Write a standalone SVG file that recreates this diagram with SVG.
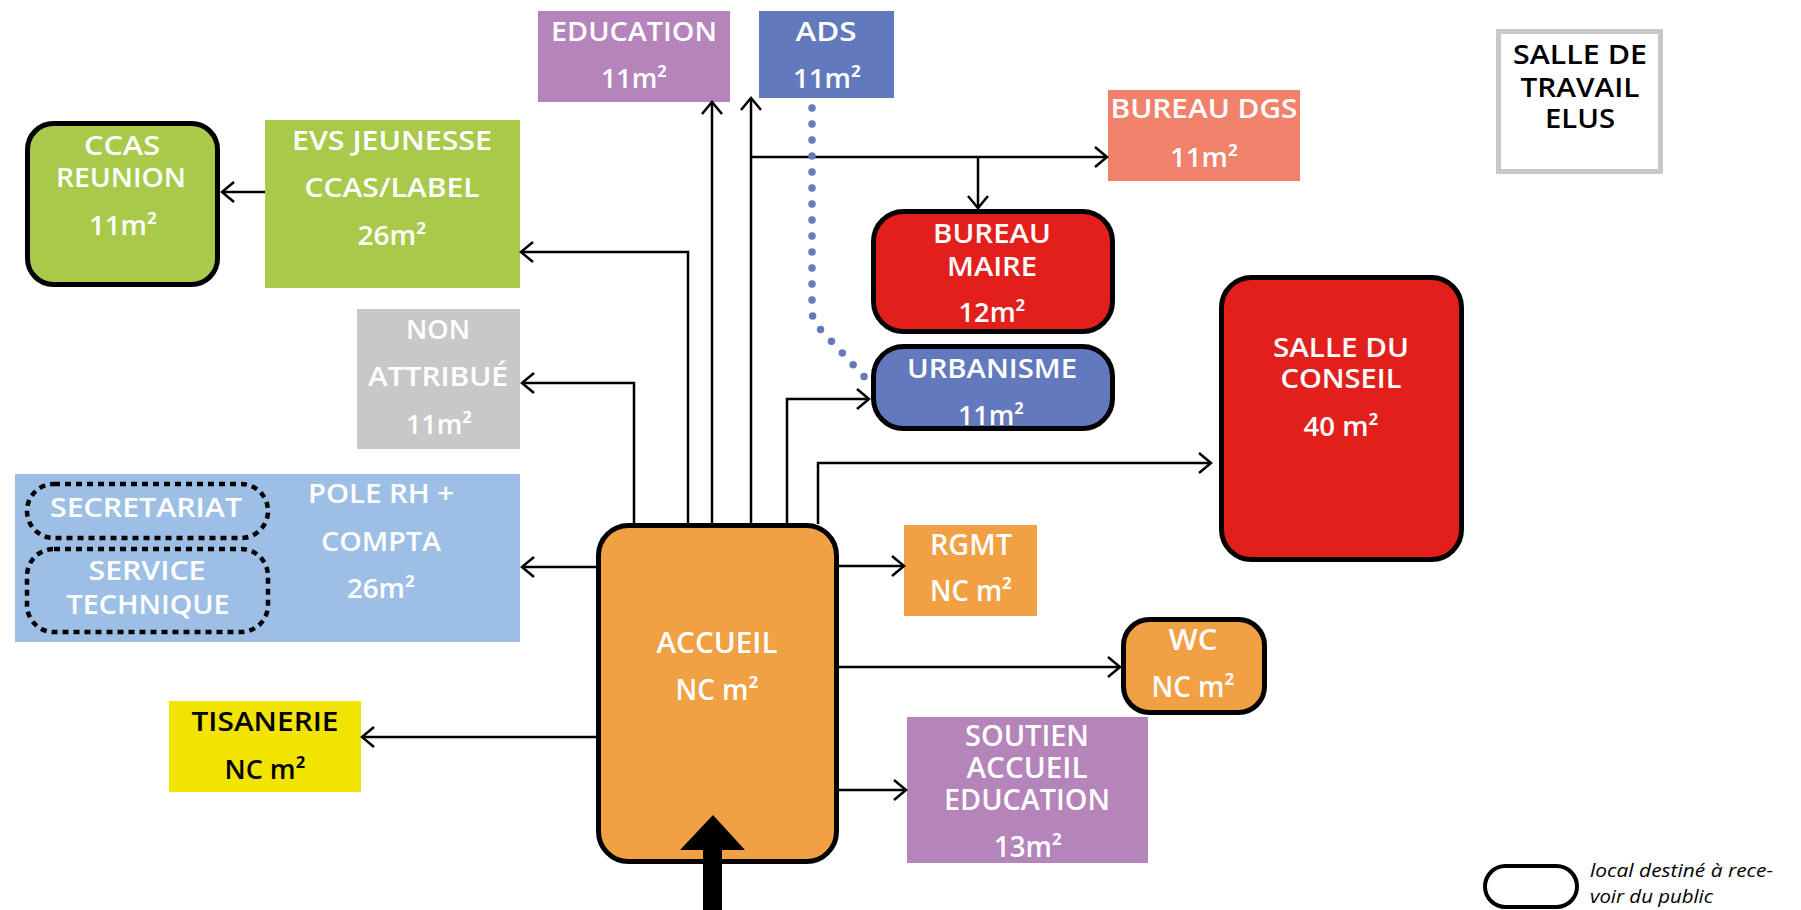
<svg xmlns="http://www.w3.org/2000/svg" width="1801" height="910" viewBox="0 0 1801 910">
<style>
.t{font-family:"Open Sans","Noto Sans",sans-serif;font-weight:600;font-size:27px;fill:#fff;text-anchor:middle}
.k{fill:#000}
.c{font-size:28px}
.lg{font-family:"Open Sans","Noto Sans",sans-serif;font-style:italic;font-size:18px;fill:#000}
.conn{fill:none;stroke:#000;stroke-width:2.5}
.rr{stroke:#000;stroke-width:5}
.dash{fill:none;stroke:#000;stroke-width:4.5;stroke-dasharray:6 5}
</style>
<defs>
<marker id="ah" markerUnits="userSpaceOnUse" markerWidth="16" markerHeight="24" refX="13" refY="11" orient="auto" viewBox="0 0 16 22">
<path d="M1,1 L13,11 L1,21" fill="none" stroke="#000" stroke-width="2.5"/>
</marker>
</defs>
<rect width="1801" height="910" fill="#fff"/>

<g id="ccas-reunion">
<rect class="rr" x="27.5" y="123.5" width="190" height="161" rx="26" fill="#A9C94B"/>
<text class="t" x="122" y="155" textLength="76" lengthAdjust="spacingAndGlyphs">CCAS</text>
<text class="t" x="121" y="187" textLength="130" lengthAdjust="spacingAndGlyphs">REUNION</text>
<text class="t" x="123" y="235" textLength="68" lengthAdjust="spacingAndGlyphs">11m²</text>
</g>
<g id="evs">
<rect x="265" y="120" width="255" height="168" fill="#A9C94B"/>
<text class="t" x="392" y="150" textLength="200" lengthAdjust="spacingAndGlyphs">EVS JEUNESSE</text>
<text class="t" x="392" y="197" textLength="175" lengthAdjust="spacingAndGlyphs">CCAS/LABEL</text>
<text class="t" x="392" y="245" textLength="69" lengthAdjust="spacingAndGlyphs">26m²</text>
</g>
<g id="education">
<rect x="538" y="11" width="192" height="91" fill="#B484BA"/>
<text class="t" x="634" y="41" textLength="166" lengthAdjust="spacingAndGlyphs">EDUCATION</text>
<text class="t" x="634" y="88" textLength="66" lengthAdjust="spacingAndGlyphs">11m²</text>
</g>
<g id="ads">
<rect x="759" y="11" width="135" height="87" fill="#6379BD"/>
<text class="t" x="826" y="41" textLength="61" lengthAdjust="spacingAndGlyphs">ADS</text>
<text class="t" x="827" y="88" textLength="68" lengthAdjust="spacingAndGlyphs">11m²</text>
</g>
<g id="bureau-dgs">
<rect x="1108" y="90" width="192" height="91" fill="#F0826B"/>
<text class="t" x="1204" y="118" textLength="187" lengthAdjust="spacingAndGlyphs">BUREAU DGS</text>
<text class="t" x="1204" y="167" textLength="68" lengthAdjust="spacingAndGlyphs">11m²</text>
</g>
<g id="bureau-maire">
<rect class="rr" x="873.5" y="211.5" width="239" height="120" rx="30" fill="#E31F1C"/>
<text class="t" x="992" y="243" textLength="118" lengthAdjust="spacingAndGlyphs">BUREAU</text>
<text class="t" x="992" y="276" textLength="90" lengthAdjust="spacingAndGlyphs">MAIRE</text>
<text class="t" x="992" y="322" textLength="67" lengthAdjust="spacingAndGlyphs">12m²</text>
</g>
<g id="urbanisme">
<rect class="rr" x="873.5" y="346.5" width="239" height="82" rx="30" fill="#6379BD"/>
<text class="t" x="992" y="378" textLength="170" lengthAdjust="spacingAndGlyphs">URBANISME</text>
<text class="t" x="991" y="425" textLength="66" lengthAdjust="spacingAndGlyphs">11m²</text>
</g>
<g id="salle-conseil">
<rect class="rr" x="1221.5" y="277.5" width="240" height="282" rx="30" fill="#E31F1C"/>
<text class="t" x="1341" y="357" textLength="136" lengthAdjust="spacingAndGlyphs">SALLE DU</text>
<text class="t" x="1341" y="388" textLength="121" lengthAdjust="spacingAndGlyphs">CONSEIL</text>
<text class="t" x="1341" y="436" textLength="75" lengthAdjust="spacingAndGlyphs">40 m²</text>
</g>
<g id="salle-elus">
<rect x="1498.5" y="31.5" width="162" height="140" fill="#fff" stroke="#C8C8C8" stroke-width="5"/>
<text class="t k" x="1580" y="64" textLength="134" lengthAdjust="spacingAndGlyphs">SALLE DE</text>
<text class="t k" x="1580" y="97" textLength="119" lengthAdjust="spacingAndGlyphs">TRAVAIL</text>
<text class="t k" x="1580" y="128" textLength="70" lengthAdjust="spacingAndGlyphs">ELUS</text>
</g>
<g id="non-attribue">
<rect x="357" y="309" width="163" height="140" fill="#C8C8C8"/>
<text class="t" x="438" y="339" textLength="64" lengthAdjust="spacingAndGlyphs">NON</text>
<text class="t" x="438" y="386" textLength="140" lengthAdjust="spacingAndGlyphs">ATTRIBUÉ</text>
<text class="t" x="439" y="434" textLength="66" lengthAdjust="spacingAndGlyphs">11m²</text>
</g>
<g id="pole-rh">
<rect x="15" y="474" width="505" height="168" fill="#9DBFE5"/>
<text class="t" x="381" y="503" textLength="146" lengthAdjust="spacingAndGlyphs">POLE RH +</text>
<text class="t" x="381" y="551" textLength="120" lengthAdjust="spacingAndGlyphs">COMPTA</text>
<text class="t" x="381" y="598" textLength="68" lengthAdjust="spacingAndGlyphs">26m²</text>
</g>
<g id="secretariat">
<rect class="dash" x="27" y="484" width="241" height="54" rx="27"/>
<text class="t" x="146" y="517" textLength="192" lengthAdjust="spacingAndGlyphs">SECRETARIAT</text>
</g>
<g id="service-technique">
<rect class="dash" x="27" y="549" width="241" height="83" rx="27"/>
<text class="t" x="147" y="580" textLength="117" lengthAdjust="spacingAndGlyphs">SERVICE</text>
<text class="t" x="148" y="614" textLength="163" lengthAdjust="spacingAndGlyphs">TECHNIQUE</text>
</g>
<g id="accueil">
<rect class="rr" x="598.5" y="525.5" width="238" height="336" rx="30" fill="#F2A044"/>
<text class="t c" x="717" y="653" textLength="121" lengthAdjust="spacingAndGlyphs">ACCUEIL</text>
<text class="t c" x="717" y="700" textLength="83" lengthAdjust="spacingAndGlyphs">NC m²</text>
</g>
<g id="rgmt">
<rect x="904" y="525" width="133" height="91" fill="#F2A044"/>
<text class="t c" x="971" y="555" textLength="82" lengthAdjust="spacingAndGlyphs">RGMT</text>
<text class="t c" x="971" y="601" textLength="82" lengthAdjust="spacingAndGlyphs">NC m²</text>
</g>
<g id="wc">
<rect class="rr" x="1123.5" y="619.5" width="141" height="93" rx="26" fill="#F2A044"/>
<text class="t c" x="1193" y="650" textLength="49" lengthAdjust="spacingAndGlyphs">WC</text>
<text class="t c" x="1193" y="697" textLength="83" lengthAdjust="spacingAndGlyphs">NC m²</text>
</g>
<g id="soutien">
<rect x="907" y="717" width="241" height="146" fill="#B484BA"/>
<text class="t c" x="1027" y="746" textLength="124" lengthAdjust="spacingAndGlyphs">SOUTIEN</text>
<text class="t c" x="1027" y="778" textLength="121" lengthAdjust="spacingAndGlyphs">ACCUEIL</text>
<text class="t c" x="1027" y="810" textLength="166" lengthAdjust="spacingAndGlyphs">EDUCATION</text>
<text class="t c" x="1028" y="857" textLength="68" lengthAdjust="spacingAndGlyphs">13m²</text>
</g>
<g id="tisanerie">
<rect x="169" y="701" width="192" height="91" fill="#F0E400"/>
<text class="t k" x="265" y="731" textLength="147" lengthAdjust="spacingAndGlyphs">TISANERIE</text>
<text class="t k" x="265" y="779" textLength="81" lengthAdjust="spacingAndGlyphs">NC m²</text>
</g>
<g id="legend">
<rect x="1485" y="866" width="92" height="41" rx="20.5" fill="#fff" stroke="#000" stroke-width="4"/>
<text class="lg" x="1590" y="877" textLength="183" lengthAdjust="spacingAndGlyphs">local destiné à rece-</text>
<text class="lg" x="1590" y="903" textLength="123" lengthAdjust="spacingAndGlyphs">voir du public</text>
</g>

<g id="connectors">
<path class="conn" marker-end="url(#ah)" d="M265,192 H222"/>
<path class="conn" marker-end="url(#ah)" d="M688,523 V252 H521"/>
<path class="conn" marker-end="url(#ah)" d="M634,523 V383 H522"/>
<path class="conn" marker-end="url(#ah)" d="M712,523 V102"/>
<path class="conn" marker-end="url(#ah)" d="M751,523 V98"/>
<path class="conn" marker-end="url(#ah)" d="M751,157 H1107"/>
<path class="conn" marker-end="url(#ah)" d="M978,157 V208"/>
<path class="conn" marker-end="url(#ah)" d="M787,523 V399 H869"/>
<path class="conn" marker-end="url(#ah)" d="M818,524 V463 H1211"/>
<path class="conn" marker-end="url(#ah)" d="M839,566 H904"/>
<path class="conn" marker-end="url(#ah)" d="M839,667 H1120"/>
<path class="conn" marker-end="url(#ah)" d="M839,790 H906"/>
<path class="conn" marker-end="url(#ah)" d="M596,567 H522"/>
<path class="conn" marker-end="url(#ah)" d="M596,737 H362"/>
<path d="M812,108 V310 Q812,322 821,330 L870,383" fill="none" stroke="#6479BD" stroke-width="7.5" stroke-linecap="round" stroke-dasharray="0 16"/>
<polygon points="713,815 745,850 722,850 722,910 703,910 703,850 680,850" fill="#000"/>
</g>
</svg>
